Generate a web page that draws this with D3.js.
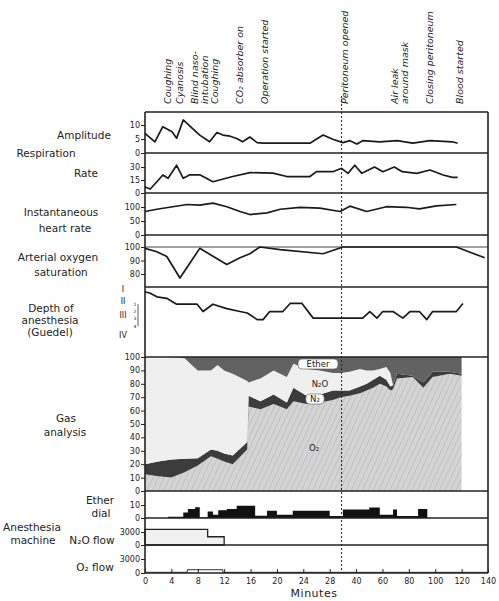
<!DOCTYPE html>
<html>
<head>
<meta charset="utf-8">
<script src="https://cdn.jsdelivr.net/npm/d3@7"></script>
<style>
  body { margin: 0; background: #fff; }
  text { font-family: "DejaVu Sans", sans-serif; fill: #222; }
</style>
</head>
<body>
<svg id="chart" width="499" height="601"></svg>
<script>
// ---- data (minutes on x) ----
var minuteTicks = [0, 4, 8, 12, 16, 20, 24, 28, 40, 60, 80, 100, 120, 140];
var peritoneumT = 33.4;

var events = [
  { t: 3.0, lines: ["Coughing"] },
  { t: 4.85, lines: ["Cyanosis"] },
  { t: 8.6, lines: ["Blind naso-", "intubation", "Coughing"] },
  { t: 13.95, lines: ["CO\u2082 absorber on"] },
  { t: 17.7, lines: ["Operation started"] },
  { t: 33.4, lines: ["Peritoneum opened"] },
  { t: 71, lines: ["Air leak", "around mask"] },
  { t: 93.8, lines: ["Closing peritoneum"] },
  { t: 116.6, lines: ["Blood started"] }
];

var amplitude = [[0,7],[1.5,4],[2.7,9.4],[4.1,7.6],[4.8,5.3],[5.8,11.8],[7.1,9],[8.3,6.4],[9.8,4],[10.9,7.3],
  [11.8,6.4],[12.9,6],[13.9,5.2],[14.8,4],[15.9,5.7],[17,3.7],[17.9,3.5],[25,3.5],[27,6.4],[29.4,4.9],
  [34,3.7],[37.2,4.4],[40.6,3.2],[45,4.4],[58,4],[71,4.4],[83,3.5],[96,4.4],[113,4],[117,3.5]];

var respRate = [[0,7],[0.8,4.6],[1.8,13],[2.7,20.8],[3.5,17],[4.8,32],[5.8,17],[6.8,21],[8.3,21],[10.3,13],
  [13.3,19],[15.9,23.5],[19.4,23],[21.5,19],[25,19],[26,24.6],[29.4,24.6],[33.4,28.5],[36.3,22.7],[39.4,32],
  [44.4,22.7],[54,30],[60.3,24.6],[69,30],[75,24.6],[86,22.7],[96,26.5],[106,20.8],[113,18],[117,18]];

var heartRate = [[0,84],[1.8,92],[4.2,101],[6.4,109],[8.3,107],[10.3,114],[12.4,101],[14.4,84],[15.9,73],
  [18.5,79],[20.5,92],[23.5,99],[26.5,96],[32.7,84],[37.2,103],[48,84],[63,101],[78,99],[88,93],[101,104],[116,109]];

var saturation = [[0,99],[1.8,96.5],[3.3,93],[5.3,77],[8.3,99],[12.4,87],[14.4,92],[15.9,95],[17.4,100],
  [20.5,98],[27,95],[34,100],[116,100],[137.5,92]];

// depth level: 1 = I, 2 = II, 3..6 = III planes, 7 = IV
var depth = [[0,1.1],[0.8,1.3],[1.8,1.8],[3.3,2],[4.8,2.8],[7.9,2.8],[8.8,3.8],[10.3,2.8],[12.4,3.4],[14.4,3.8],
  [15.5,4],[17,4.9],[17.9,4.9],[18.9,3.8],[20.9,3.8],[22,2.7],[23.8,2.7],[25.5,4.7],[45,4.7],[50.4,3.8],
  [55.8,4.7],[60.3,3.8],[67.9,3.8],[75.5,4.7],[80.8,3.8],[88,3.8],[93.6,4.9],[98,3.8],[116,3.8],[121,2.7]];
var depthLevels = [0.75, 2.3, 4.3, 7];
var depthLabels = ["I", "II", "III", "IV"];
var planeLevels = [2.8, 3.8, 4.8, 5.8];

// gas analysis, percent of each gas
var gasT     = [0,2,4,6,8,10,11,12,13.3,15.5,15.7,17.5,19.5,21.5,22.5,24.5,26.5,29.5,33,37,43,48,53,58,63,66,68,71,83,91,98,111,120];
var o2Pct    = [12.5,11,10,14,19,26,24,22,20,31,63,61,65,61,67,65,66,68,70,71,73,75,77,80,78,75,76,84,85,77,85,87.5,86];
var n2Pct    = [7.5,11,13.5,10,5.5,5,6,6,6.5,5.5,8,6,7,5,10,6,6,7,5,4,5,5,6,6,5,3,3,3.5,1,4,4,1.5,1.5];
var n2oPct   = [80,78,76.5,75,65.5,59,64,62,61,45.5,10,17,18,19,18,20,18,13,13,14,13,10,7,5,9.5,10,0,0,0,0,0,0,0];
var etherPct = [0,0,0,1,10,10,6,10,12.5,18,19,16,10,15,5,9,10,12,12,11,9,10,10,9,7.5,12,21,12.5,14,19,11,11,12.5];

// anesthesia machine (step values)
var etherDial = [[0,0],[3.5,1],[5.8,4.3],[6.5,7],[7.6,8.2],[8.3,0.5],[9.5,5],[10.3,2.5],[11.1,6],[12.4,7],
  [13.9,9.5],[16.7,1.8],[18.5,5.5],[20,2.5],[22.4,5.5],[28,1.5],[34,6.5],[50,8],[58,2.5],[68,6.5],[71,1.5],[87,7],[94,0]];
var n2oFlow = [[0,3600],[9.5,1900],[12,0]];
var o2Flow = [[0,150],[6.4,700],[11.8,150],[140,150]];

// ---- layout ----
var left = 145, right = 488, plotTop = 112, plotBottom = 573;

var svg = d3.select("#chart");
svg.append("rect").attr("width", 499).attr("height", 601).attr("fill", "#fff");

var x = d3.scaleLinear()
  .domain(minuteTicks)
  .range(minuteTicks.map(function(d, i) { return left + i * (right - left) / (minuteTicks.length - 1); }));

var yAmp = d3.scaleLinear().domain([0, 10]).range([153, 125]);
var yRate = d3.scaleLinear().domain([0, 30]).range([193, 167]);
var yHr = d3.scaleLinear().domain([0, 100]).range([235, 207]);
var ySat = d3.scaleLinear().domain([80, 100]).range([274, 247]);
var yDepth = d3.scaleLinear().domain([1, 7]).range([291, 335]);
var yGas = d3.scaleLinear().domain([0, 100]).range([491, 357]);
var yEther = d3.scaleLinear().domain([0, 10]).range([518, 505]);
var yN2o = d3.scaleLinear().domain([0, 3000]).range([545, 532]);
var yO2 = d3.scaleLinear().domain([0, 3000]).range([573, 559]);

// hatch for oxygen area
var defs = svg.append("defs");
var pat = defs.append("pattern").attr("id", "hatch").attr("patternUnits", "userSpaceOnUse")
  .attr("width", 5).attr("height", 5).attr("patternTransform", "rotate(25)");
pat.append("rect").attr("width", 5).attr("height", 5).attr("fill", "#d4d4d4");
pat.append("line").attr("x1", 0).attr("y1", 0).attr("x2", 0).attr("y2", 5)
  .attr("stroke", "#b9b9b9").attr("stroke-width", 1.4);

// ---- gas analysis stack ----
var gasRows = gasT.map(function(t, i) {
  return { t: t, o2: o2Pct[i], n2: n2Pct[i], n2o: n2oPct[i], ether: etherPct[i] };
});
var gasKeys = ["o2", "n2", "n2o", "ether"];
var gasFill = { o2: "url(#hatch)", n2: "#3c3c3c", n2o: "#efefef", ether: "#626262" };
var series = d3.stack().keys(gasKeys)(gasRows);
var gasArea = d3.area()
  .x(function(d) { return x(d.data.t); })
  .y0(function(d) { return yGas(d[0]); })
  .y1(function(d) { return yGas(d[1]); });
svg.append("g").selectAll("path").data(series).enter().append("path")
  .attr("d", gasArea)
  .attr("fill", function(d) { return gasFill[d.key]; });

// gas labels
function boxLabel(cx, cy, str, boxed) {
  var g = svg.append("g");
  if (boxed) {
    g.append("rect").attr("x", cx - str.length * 3.6 - 2).attr("y", cy - 5)
      .attr("width", str.length * 7.2 + 4).attr("height", 10).attr("rx", 4)
      .attr("fill", "#fff").attr("stroke", "#555").attr("stroke-width", 0.6);
  }
  g.append("text").attr("x", cx).attr("y", cy + 3).attr("text-anchor", "middle")
    .attr("font-size", 8.5).text(str);
}
boxLabel(318, 364, "Ether", true);
boxLabel(320, 384, "N\u2082O", false);
boxLabel(315, 399, "N\u2082", true);
boxLabel(314, 448, "O\u2082", false);

// ---- anesthesia machine ----
svg.append("path").datum(etherDial)
  .attr("d", d3.area().curve(d3.curveStepAfter)
    .x(function(d) { return x(d[0]); }).y0(yEther(0)).y1(function(d) { return yEther(d[1]); }))
  .attr("fill", "#111");

svg.append("path").datum(n2oFlow)
  .attr("d", d3.area().curve(d3.curveStepAfter)
    .x(function(d) { return x(d[0]); }).y0(yN2o(0)).y1(function(d) { return yN2o(d[1]); }))
  .attr("fill", "#f1f1f1").attr("stroke", "#222").attr("stroke-width", 1.3);

svg.append("path").datum(o2Flow)
  .attr("d", d3.line().curve(d3.curveStepAfter)
    .x(function(d) { return x(d[0]); }).y(function(d) { return yO2(d[1]); }))
  .attr("fill", "none").attr("stroke", "#333").attr("stroke-width", 1);

// ---- frame and separators ----
var sepLines = [plotTop, yAmp(0), yRate(0), yHr(0), 287, yGas(100), yGas(0), yEther(0), yN2o(0), yO2(0)];
svg.append("g").selectAll("line").data(sepLines).enter().append("line")
  .attr("x1", left).attr("x2", right)
  .attr("y1", function(d) { return d; }).attr("y2", function(d) { return d; })
  .attr("stroke", "#222").attr("stroke-width", 1.6);
svg.append("line").attr("x1", left).attr("x2", right).attr("y1", ySat(100)).attr("y2", ySat(100))
  .attr("stroke", "#444").attr("stroke-width", 1);
[left, right].forEach(function(xx) {
  svg.append("line").attr("x1", xx).attr("x2", xx).attr("y1", plotTop).attr("y2", plotBottom)
    .attr("stroke", "#222").attr("stroke-width", 1.6);
});

// dashed peritoneum line
svg.append("line").attr("x1", x(peritoneumT)).attr("x2", x(peritoneumT))
  .attr("y1", 96).attr("y2", plotBottom)
  .attr("stroke", "#222").attr("stroke-width", 1).attr("stroke-dasharray", "2,2");

// ---- trend lines ----
function drawLine(data, y) {
  svg.append("path").datum(data)
    .attr("d", d3.line().x(function(d) { return x(d[0]); }).y(function(d) { return y(d[1]); }))
    .attr("fill", "none").attr("stroke", "#1a1a1a").attr("stroke-width", 1.7)
    .attr("stroke-linejoin", "round");
}
drawLine(amplitude, yAmp);
drawLine(respRate, yRate);
drawLine(heartRate, yHr);
drawLine(saturation, ySat);
drawLine(depth, yDepth);

// ---- y axes ----
function yAxis(scale, values) {
  var g = svg.append("g").attr("transform", "translate(" + left + ",0)")
    .call(d3.axisLeft(scale).tickValues(values).tickSize(4).tickPadding(1).tickFormat(d3.format("d")));
  g.select(".domain").remove();
  g.selectAll("text").attr("font-size", 8).attr("font-family", "DejaVu Sans").attr("fill", "#222");
  g.selectAll("line").attr("stroke", "#222");
}
yAxis(yAmp, [0, 5, 10]);
yAxis(yRate, [0, 15, 30]);
yAxis(yHr, [0, 50, 100]);
yAxis(ySat, [80, 90, 100]);
yAxis(yGas, d3.range(0, 101, 10));
yAxis(yEther, [0, 10]);
yAxis(yN2o, [0, 3000]);
yAxis(yO2, [0, 3000]);

// depth stages
svg.append("g").selectAll("text").data(depthLevels).enter().append("text")
  .attr("x", 123).attr("y", function(d) { return yDepth(d) + 3; })
  .attr("text-anchor", "middle").attr("font-size", 8)
  .text(function(d, i) { return depthLabels[i]; });
svg.append("line").attr("x1", 138).attr("x2", 138)
  .attr("y1", yDepth(planeLevels[0])).attr("y2", yDepth(planeLevels[3]))
  .attr("stroke", "#333").attr("stroke-width", 0.8);
svg.append("g").selectAll("text").data(planeLevels).enter().append("text")
  .attr("x", 135).attr("y", function(d) { return yDepth(d) + 1.5; })
  .attr("text-anchor", "middle").attr("font-size", 4.5)
  .text(function(d, i) { return i + 1; });

// ---- bottom axis ----
var xAxis = svg.append("g").attr("transform", "translate(0," + plotBottom + ")")
  .call(d3.axisBottom(x).tickValues(minuteTicks).tickSizeInner(-4).tickSizeOuter(0).tickPadding(5));
xAxis.select(".domain").remove();
xAxis.selectAll("text").attr("font-size", 8).attr("font-family", "DejaVu Sans").attr("fill", "#222");
xAxis.selectAll("line").attr("stroke", "#222");
svg.append("text").attr("x", 314).attr("y", 597).attr("text-anchor", "middle")
  .attr("font-size", 11).attr("letter-spacing", 0.5).text("Minutes");

// ---- event labels (rotated) ----
events.forEach(function(ev) {
  var n = ev.lines.length;
  ev.lines.forEach(function(s, k) {
    var bx = x(ev.t) + 6 + (k - (n - 1) / 2) * 10;
    svg.append("text")
      .attr("transform", "translate(" + bx + ",104) rotate(-90)")
      .attr("font-size", 9.5).attr("font-style", "italic")
      .text(s);
  });
});

// ---- panel titles ----
var titles = [
  ["Amplitude", 84, 139], ["Respiration", 46, 157], ["Rate", 86, 177],
  ["Instantaneous", 61, 216], ["heart rate", 65, 232],
  ["Arterial oxygen", 58, 261], ["saturation", 61, 276],
  ["Depth of", 51, 312], ["anesthesia", 50, 324], ["(Guedel)", 50, 336],
  ["Gas", 66, 422], ["analysis", 65, 436],
  ["Ether", 100, 504], ["dial", 101, 517],
  ["Anesthesia", 32, 531], ["machine", 33, 544],
  ["N\u2082O flow", 92, 544], ["O\u2082 flow", 95, 571]
];
svg.append("g").selectAll("text").data(titles).enter().append("text")
  .attr("x", function(d) { return d[1]; }).attr("y", function(d) { return d[2]; })
  .attr("text-anchor", "middle").attr("font-size", 10.5)
  .text(function(d) { return d[0]; });
</script>
</body>
</html>
